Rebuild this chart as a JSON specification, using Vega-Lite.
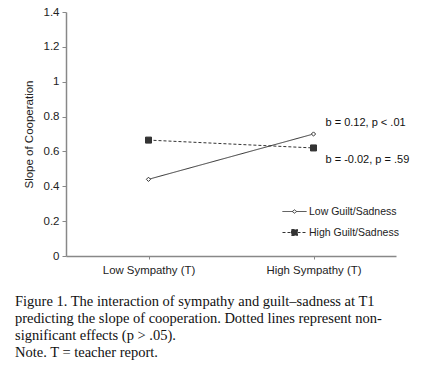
{
  "$schema": "https://vega.github.io/schema/vega-lite/v6.json",
  "autosize": "none",
  "width": 330,
  "height": 244,
  "padding": {"left": 66, "top": 12, "right": 29, "bottom": 115},
  "background": "white",
  "config": {
    "view": {"stroke": null},
    "font": "Liberation Sans",
    "axis": {"grid": false, "domainColor": "#888", "tickColor": "#888", "labelColor": "#222", "titleColor": "#222", "labelFont": "Liberation Sans", "titleFont": "Liberation Sans"}
  },
  "title": {
    "text": [
      "Figure 1. The interaction of sympathy and guilt–sadness at T1",
      "predicting the slope of cooperation. Dotted lines represent non-",
      "significant effects (p > .05).",
      "Note. T = teacher report."
    ],
    "orient": "bottom",
    "anchor": "start",
    "frame": "group",
    "dx": -51,
    "offset": 20,
    "font": "Liberation Serif",
    "fontSize": 14.5,
    "fontWeight": "normal",
    "color": "#111",
    "lineHeight": 17
  },
  "data": {
    "values": [
      {"sympathy": "Low Sympathy (T)", "guilt": "Low Guilt/Sadness", "slope": 0.44},
      {"sympathy": "High Sympathy (T)", "guilt": "Low Guilt/Sadness", "slope": 0.70},
      {"sympathy": "Low Sympathy (T)", "guilt": "High Guilt/Sadness", "slope": 0.665},
      {"sympathy": "High Sympathy (T)", "guilt": "High Guilt/Sadness", "slope": 0.62}
    ]
  },
  "encoding": {
    "x": {
      "field": "sympathy",
      "type": "nominal",
      "sort": ["Low Sympathy (T)", "High Sympathy (T)"],
      "scale": {"paddingInner": 0, "paddingOuter": 0},
      "axis": {"title": null, "labelAngle": 0, "bandPosition": 0, "tickSize": 3, "labelFontSize": 11.4, "labelPadding": 5, "domainWidth": 1.5}
    },
    "y": {
      "field": "slope",
      "type": "quantitative",
      "scale": {"domain": [0, 1.4]},
      "axis": {"title": "Slope of Cooperation", "values": [0, 0.2, 0.4, 0.6, 0.8, 1, 1.2, 1.4], "format": "~g", "tickSize": 4, "labelFontSize": 11.5, "labelPadding": 3, "titleFontSize": 11.5, "titleFontWeight": "normal", "titlePadding": 9, "domainWidth": 1.5}
    }
  },
  "layer": [
    {
      "mark": {"type": "line", "color": "#333", "strokeWidth": 1},
      "encoding": {
        "strokeDash": {
          "field": "guilt",
          "type": "nominal",
          "scale": {"domain": ["Low Guilt/Sadness", "High Guilt/Sadness"], "range": [[1, 0], [3, 2]]},
          "legend": {
            "title": null,
            "orient": "none",
            "legendX": 223,
            "legendY": 194,
            "symbolSize": 100,
            "symbolType": {"expr": "datum.label == 'Low Guilt/Sadness' ? 'M-2.4,0L-0.44,0M0.44,0L2.4,0M-0.44,0L0,-0.34L0.44,0L0,0.34Z' : 'M-2.4,0L-0.6,0M0.6,0L2.4,0M-0.6,-0.6L0.6,-0.6L0.6,0.6L-0.6,0.6Z'"},
            "symbolFillColor": {"expr": "datum.label == 'Low Guilt/Sadness' ? 'white' : '#333'"},
            "symbolStrokeColor": "#333",
            "symbolStrokeWidth": 1,
            "labelFontSize": 10.5,
            "labelColor": "#222",
            "labelFont": "Liberation Sans",
            "rowPadding": 10,
            "labelOffset": 9
          }
        }
      }
    },
    {
      "transform": [{"filter": "datum.guilt == 'Low Guilt/Sadness'"}],
      "mark": {"type": "point", "shape": "diamond", "size": 18, "filled": true, "fill": "white", "stroke": "#333", "strokeWidth": 1, "opacity": 1}
    },
    {
      "transform": [{"filter": "datum.guilt == 'High Guilt/Sadness'"}],
      "mark": {"type": "point", "shape": "square", "size": 36, "filled": true, "fill": "#333", "stroke": "#333", "strokeWidth": 1, "opacity": 1}
    },
    {
      "transform": [{"filter": "datum.sympathy == 'High Sympathy (T)' && datum.guilt == 'Low Guilt/Sadness'"}],
      "mark": {"type": "text", "align": "left", "dx": 12, "dy": -11, "fontSize": 11, "color": "#111", "font": "Liberation Sans"},
      "encoding": {"text": {"value": "b = 0.12, p < .01"}}
    },
    {
      "transform": [{"filter": "datum.sympathy == 'High Sympathy (T)' && datum.guilt == 'High Guilt/Sadness'"}],
      "mark": {"type": "text", "align": "left", "dx": 12, "dy": 12, "fontSize": 11, "color": "#111", "font": "Liberation Sans"},
      "encoding": {"text": {"value": "b = -0.02, p = .59"}}
    }
  ]
}
